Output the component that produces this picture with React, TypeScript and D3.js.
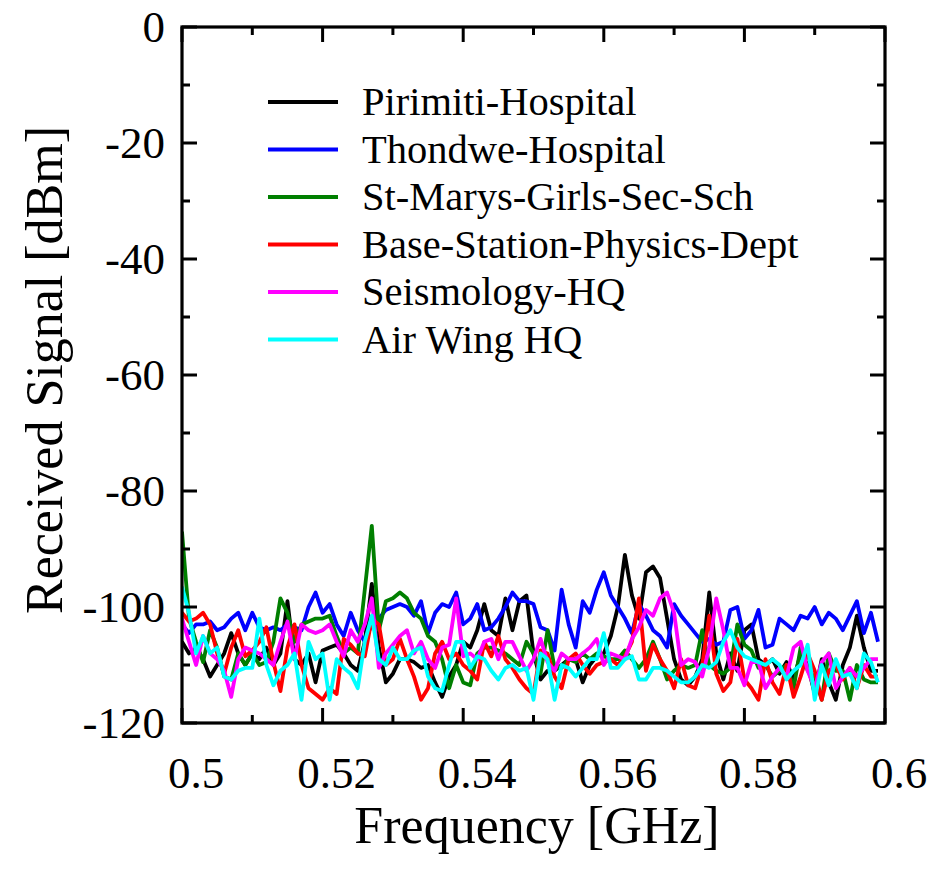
import React from "react";
import * as d3 from "d3";

const FREQ_START = 0.5;
const FREQ_STEP = 0.001;

const xTickLabels = ["0.5", "0.52", "0.54", "0.56", "0.58", "0.6"];
const yTickLabels = ["0", "-20", "-40", "-60", "-80", "-100", "-120"];

const seriesNames = [
  "Pirimiti-Hospital",
  "Thondwe-Hospital",
  "St-Marys-Girls-Sec-Sch",
  "Base-Station-Physics-Dept",
  "Seismology-HQ",
  "Air Wing HQ",
];
const seriesColors = ["#000000", "#0000ff", "#007f00", "#ff0000", "#ff00ff", "#00ffff"];

const pirimiti = [
  -106, -108, -107, -109, -112, -110, -108, -104.5, -108, -110,
  -108, -109, -107, -110, -108, -99, -109, -110, -108, -113,
  -107.5, -107, -106.5, -108, -110, -111, -106, -96, -107, -113,
  -111.5, -109, -109, -109.5, -110.5, -110, -113, -115.5, -112, -110,
  -106, -107, -104, -99.5, -104, -105, -98.5, -104, -99, -98,
  -108, -112.5, -111, -111, -110, -109, -109, -113, -110, -108.5,
  -108, -105, -100, -91, -98, -102, -94, -93, -95, -102,
  -109, -112.5, -113.5, -112, -109, -97.5, -108, -112.5, -108, -111,
  -104, -103, -109, -110, -109, -111.5, -109.5, -112.5, -108, -110,
  -115, -109, -113, -116, -110, -107, -101.5, -107, -111, -111,
];
const thondwe = [
  -103, -104.5, -103, -103, -102.5, -104, -103.5, -102, -101, -104,
  -101, -103.5, -104, -103.5, -104, -103, -103.5, -104, -100, -97.5,
  -101, -99.5, -103, -105, -101, -104, -106, -103, -102, -100.5,
  -100, -99.5, -100, -101.5, -99, -104.5, -101, -99.5, -100, -97.5,
  -103, -102, -99.5, -104, -103.5, -102, -100, -97.5, -99, -99,
  -99.5, -103.5, -104, -107.5, -97, -103, -107, -99, -101, -97,
  -94, -98, -100, -102, -104.5, -99.5, -101.5, -104, -105, -107,
  -99.5, -101.5, -103, -104.5, -106, -105.5, -106.5, -106, -100.5, -100,
  -105.5, -104, -100.5, -107, -106.5, -102, -103, -104, -101.5, -102,
  -100, -103, -101, -102, -104, -101.5, -99, -104.5, -101, -106,
];
const stMarys = [
  -87, -102, -106, -109.5, -104, -107, -112, -112.5, -108, -110,
  -108, -110, -109.5, -106, -98.5, -101, -106, -103, -102.5, -102,
  -102, -101.5, -105, -108, -107, -108, -97, -86, -104, -99,
  -98.5, -97.5, -98.5, -101, -102, -105, -106, -109, -114, -110,
  -113, -113.5, -108, -107, -107, -107.5, -108, -109, -110, -106,
  -108, -111.5, -104, -110.5, -110.5, -109, -109.5, -108, -109, -108,
  -108.5, -109, -109, -107.5, -109, -110.5, -109, -106, -109, -112.5,
  -111, -110, -110.5, -110, -104, -110, -111, -111.5, -110.5, -103,
  -106.5, -107.5, -110.5, -110, -112, -111, -110, -114, -107, -111,
  -112, -116, -108, -111, -111, -116, -110, -112.5, -113, -113,
];
const baseStation = [
  -101, -102.5, -102, -101, -103, -108, -111.5, -107, -104, -108.5,
  -107.5, -106, -103.5, -109.5, -114.5, -107, -103, -110, -114, -115,
  -116, -114, -115, -105.5, -106.5, -108, -108.5, -102, -103, -110,
  -109, -105.5, -109, -112, -116, -114, -108, -106, -109, -108,
  -110, -111, -112.5, -106, -108.5, -105, -109, -110.5, -112.5, -114,
  -115, -107.5, -108, -112, -114, -109, -108, -110, -111.5, -110,
  -109.5, -109, -110, -108.5, -106, -98.5, -111, -106.5, -109, -111,
  -114, -109, -113.5, -114, -110, -101.5, -111.5, -114.5, -113, -105.5,
  -112.5, -114, -116, -109, -113, -115, -110, -115.5, -112, -108,
  -111, -116, -111, -110, -112.5, -110.5, -114, -110, -112, -112,
];
const seismology = [
  -102, -106, -110, -105, -108, -109, -111, -115.5, -109, -107,
  -107.5, -108, -109, -110, -106, -102.5, -109, -103, -104, -104.5,
  -104, -103, -106, -108.5, -104, -106, -103, -98.5, -110.5, -108,
  -106.5, -105, -104, -108, -106, -109, -110.5, -107, -106.5, -98.5,
  -108.5, -108, -109, -106, -105.5, -109, -106, -106, -108.5, -111,
  -109, -105.5, -109.5, -111, -108, -109, -109, -108, -107, -105.5,
  -110, -108, -108.5, -109, -105.5, -103.5, -100.5, -101.5, -98.5, -97.5,
  -101, -110, -109, -109.5, -112, -107, -98.5, -104, -110.5, -110.5,
  -113.5, -109.5, -109.5, -114, -112, -110.5, -112, -107, -106, -111,
  -114, -109.5, -108, -114, -112, -110.5, -112, -110.5, -109, -109,
];
const airWing = [
  -96.5, -101, -108, -105, -108, -107, -112, -112.5, -111, -110.5,
  -110.5, -102, -110, -113.5, -111, -110, -108, -116, -106, -109,
  -108, -116, -109, -110.5, -111.5, -114, -106, -101.5, -109, -110,
  -107, -109, -109, -107.5, -107, -112, -114, -114.5, -110, -106,
  -106, -110.5, -108.5, -109, -111, -112.5, -110.5, -110, -111, -110.5,
  -116, -108, -109, -116, -110, -110.5, -112, -110.5, -109, -109,
  -104.5, -110.5, -110.5, -109, -108.5, -112.5, -112.5, -110.5, -110.5, -111,
  -112, -113, -113, -112, -110, -110.5, -109.5, -106, -104, -107,
  -108.5, -109, -109.5, -110, -109, -110, -112.5, -111, -110, -106.5,
  -116, -110, -113.5, -109, -112, -111.5, -114, -108, -109.5, -113,
];

const seriesValues = [pirimiti, thondwe, stMarys, baseStation, seismology, airWing];

const W = 935;
const H = 869;
const L = 182;
const R = 885;
const T = 27;
const B = 723;
const FONT = "'Liberation Serif', 'Times New Roman', serif";

export default function App() {
  const x = d3.scaleLinear().domain([0.5, 0.6]).range([L, R]);
  const y = d3.scaleLinear().domain([-120, 0]).range([B, T]);

  const line = d3
    .line<number>()
    .x((_, i) => x(FREQ_START + i * FREQ_STEP))
    .y((d) => y(d));

  const xMajor = xTickLabels.map((t) => +t);
  const xMinor = d3.range(0.51, 0.6, 0.02);
  const yMajor = yTickLabels.map((t) => +t);
  const yMinor = d3.range(-110, 0, 20);

  const MAJ = 15;
  const MIN = 8;

  const legendX1 = 268;
  const legendX2 = 338;
  const legendY0 = 102;
  const legendDy = 47.5;

  return (
    <svg
      width={W}
      height={H}
      style={{ position: "absolute", left: 0, top: 0, background: "#fff" }}
    >
      <defs>
        <clipPath id="plotclip">
          <rect x={L} y={T - 10} width={R - L} height={B - T + 10} />
        </clipPath>
      </defs>

      {/* data lines */}
      <g clipPath="url(#plotclip)">
        {seriesValues.map((vals, k) => (
          <path
            key={k}
            d={line(vals) || ""}
            fill="none"
            stroke={seriesColors[k]}
            strokeWidth={3.8}
            strokeLinejoin="round"
          />
        ))}
      </g>

      {/* ticks */}
      <g stroke="#000" strokeWidth={3}>
        {xMajor.map((v, i) => (
          <g key={"xM" + i}>
            <line x1={x(v)} x2={x(v)} y1={B} y2={B - MAJ} />
            <line x1={x(v)} x2={x(v)} y1={T} y2={T + MAJ} />
          </g>
        ))}
        {xMinor.map((v, i) => (
          <g key={"xm" + i}>
            <line x1={x(v)} x2={x(v)} y1={B} y2={B - MIN} />
            <line x1={x(v)} x2={x(v)} y1={T} y2={T + MIN} />
          </g>
        ))}
        {yMajor.map((v, i) => (
          <g key={"yM" + i}>
            <line x1={L} x2={L + MAJ} y1={y(v)} y2={y(v)} />
            <line x1={R} x2={R - MAJ} y1={y(v)} y2={y(v)} />
          </g>
        ))}
        {yMinor.map((v, i) => (
          <g key={"ym" + i}>
            <line x1={L} x2={L + MIN} y1={y(v)} y2={y(v)} />
            <line x1={R} x2={R - MIN} y1={y(v)} y2={y(v)} />
          </g>
        ))}
      </g>

      {/* frame */}
      <rect
        x={L}
        y={T}
        width={R - L}
        height={B - T}
        fill="none"
        stroke="#000"
        strokeWidth={3.2}
      />

      {/* tick labels */}
      <g style={{ fontFamily: FONT }} fontSize={45} fill="#000">
        {xTickLabels.map((t, i) => (
          <text key={"xl" + i} x={x(+t) + 14} y={788} textAnchor="middle">
            {t}
          </text>
        ))}
        {yTickLabels.map((t, i) => (
          <text
            key={"yl" + i}
            x={165}
            y={y(+t)}
            dy="0.33em"
            textAnchor="end"
          >
            {t}
          </text>
        ))}
      </g>

      {/* axis titles */}
      <text
        x={537}
        y={843}
        textAnchor="middle"
        style={{ fontFamily: FONT }}
        fontSize={52}
        fill="#000"
      >
        Frequency [GHz]
      </text>
      <text
        transform={`translate(62, 370) rotate(-90)`}
        textAnchor="middle"
        style={{ fontFamily: FONT }}
        fontSize={52}
        fill="#000"
      >
        Received Signal [dBm]
      </text>

      {/* legend */}
      <g style={{ fontFamily: FONT }} fontSize={40.5} fill="#000">
        {seriesNames.map((name, k) => {
          const ly = legendY0 + k * legendDy;
          return (
            <g key={"lg" + k}>
              <line
                x1={legendX1}
                x2={legendX2}
                y1={ly}
                y2={ly}
                stroke={seriesColors[k]}
                strokeWidth={3.8}
              />
              <text x={362} y={ly} dy="0.33em">
                {name}
              </text>
            </g>
          );
        })}
      </g>
    </svg>
  );
}
